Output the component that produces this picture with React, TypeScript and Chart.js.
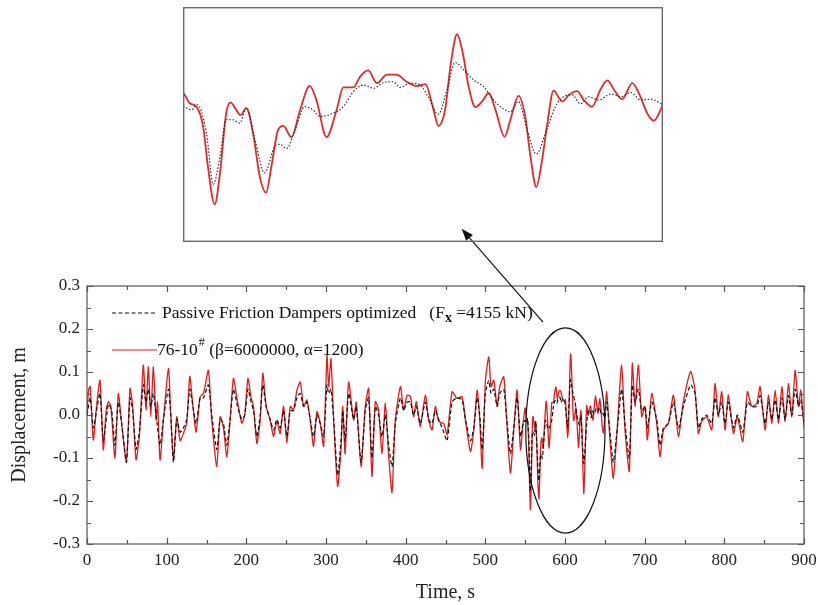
import React, { useEffect, useRef } from 'react';
import { Chart, registerables } from 'chart.js';

Chart.register(...registerables);

const FONT = "'Liberation Serif', 'Times New Roman', Times, serif";

// ---- axis ranges / ticks ----
const TIME_RANGE = [0, 900];
const TIME_STEP = 100;
const TIME_MINOR = 50;
const DISP_RANGE = [-0.3, 0.3];
const DISP_STEP = 0.1;
const DISP_MINOR = 0.05;
const INSET_TIME = [550, 650];
const INSET_DISP = [-0.3, 0.2];

// ---- labels ----
const X_TITLE = 'Time, s';
const Y_TITLE = 'Displacement, m';
const LEGEND_PASSIVE = 'Passive Friction Dampers optimized';
const LEGEND_PASSIVE_F = '(F';
const LEGEND_PASSIVE_SUB = 'x';
const LEGEND_PASSIVE_TAIL = ' =4155 kN)';
const LEGEND_ACTIVE = '76-10';
const LEGEND_ACTIVE_SUP = '#';
const LEGEND_ACTIVE_TAIL = ' (\u03B2=6000000, \u03B1=1200)';

// ---- annotation anchors (data space) ----
const ELLIPSE = { t: 600.5, v: -0.036, dt: 49.7, dv: 0.2386 };
const ARROW_FROM = { t: 572.4, v: 0.216 };
const ARROW_TO = { t: 470.3, v: 0.433 };

// ---- series: [time s, displacement m] ----
const redSeries: [number, number][] = [
  [0, 0.0], [2, 0.06], [4, 0.066], [7.9, -0.058], [12, 0.02], [16.3, 0.081], [20.5, -0.081],
  [24, 0.01], [26.8, 0.031], [30, 0.02], [35, -0.1], [39.3, 0.05], [43.5, -0.019], [49.5, -0.108],
  [54, 0.062], [57.3, 0.02], [61.5, -0.104], [65.7, -0.05], [70.7, 0.116], [74.1, 0.012], [77, 0.112],
  [80, -0.004], [83.3, 0.112], [86.7, -0.012], [88.5, 0.03], [91.7, -0.105], [95.9, -0.012],
  [102.2, 0.108], [105.1, 0.004], [108.5, -0.104], [112.7, -0.004], [116.9, -0.06], [121, -0.043],
  [125.2, -0.019], [129, 0.09], [133, 0.02], [137, -0.04], [142, 0.043], [146.2, 0.05], [152.4, 0.104],
  [156.6, -0.012], [162.9, -0.12], [167.1, -0.004], [171.3, -0.03], [175.5, -0.097], [179.6, -0.012],
  [183.8, 0.085], [188.9, 0.031], [194.3, -0.019], [198, 0.0], [202, 0.085], [206, 0.04], [209, 0.02],
  [213.2, -0.066], [217.4, -0.012], [220.7, 0.097], [224.9, 0.02], [229.9, -0.012], [234.1, -0.05],
  [238.3, -0.015], [242.5, -0.043], [246.7, 0.02], [250.9, -0.066], [255.1, 0.02], [259.3, 0.012],
  [263.5, 0.058], [267.7, 0.077], [271.9, 0.02], [276.1, 0.035], [280.2, -0.012], [284.4, -0.073],
  [288.6, 0.008], [292.8, -0.019], [297, -0.073], [301.2, 0.139], [303.3, 0.066], [306.2, 0.131],
  [309.6, -0.012], [314.6, -0.166], [318.8, -0.081], [321, 0.02], [324, -0.09], [328.4, 0.077],
  [334.7, -0.012], [338, 0.03], [344, -0.12], [349.3, 0.02], [353.5, 0.062], [357.7, -0.143],
  [361.9, 0.031], [366, 0.012], [370.3, -0.089], [374.5, 0.027], [378.7, -0.097], [382.9, -0.18],
  [387, -0.012], [393.4, 0.066], [397.5, 0.012], [401.7, 0.046], [405.9, 0.043], [410, -0.004],
  [413.4, 0.031], [418.4, -0.027], [424.7, 0.046], [428.9, -0.012], [433.1, -0.035], [437.3, 0.02],
  [441.5, -0.015], [447.8, -0.02], [452, -0.046], [458.3, 0.054], [464.5, 0.039], [470.8, 0.043],
  [475, -0.012], [481.3, -0.085], [485.5, -0.035], [489.7, 0.058], [493, -0.012], [496, -0.124],
  [500.1, 0.081], [504.3, 0.135], [507.2, 0.066], [510.6, 0.081], [514.8, 0.02], [518.1, 0.066],
  [523.1, 0.089], [526.5, -0.004], [531.5, -0.135], [535.7, -0.035], [539.9, 0.058], [544.1, -0.081],
  [547.4, -0.019],
  [550, 0.0165], [551.4, -0.005], [552.8, -0.012], [554.2, -0.055], [555.2, -0.14], [556.6, -0.22],
  [557.7, -0.154], [559, -0.026], [559.9, -0.003], [561.1, -0.019], [562, -0.03], [563.2, -0.015],
  [564.6, -0.069], [566, -0.161], [567.3, -0.195], [568.4, -0.14], [569.8, -0.062], [570.9, -0.053],
  [572.6, -0.077], [574.4, -0.019], [576.4, 0.032], [577.8, 0.002], [579.9, -0.077], [582, -0.019],
  [583.4, 0.029], [585.5, 0.029], [586.9, 0.052], [588.6, 0.065], [590.4, 0.038], [592.5, 0.056],
  [594.5, 0.056], [596.6, 0.041], [598.7, 0.032], [600.5, 0.036], [602.2, -0.019], [603.2, -0.053],
  [604.6, -0.019], [605.8, 0.08], [607.1, 0.142], [608.3, 0.101], [609.5, 0.031], [610.9, -0.013],
  [612.3, -0.001], [613.7, 0.017], [615.1, -0.019], [617, -0.076], [618.2, -0.04], [619.9, 0.011],
  [621.3, -0.033], [622.4, -0.119], [623.6, -0.183], [624.8, -0.126], [625.9, -0.048], [627.2, 0.022],
  [629, -0.001], [630.4, 0.013], [632.1, 0.021], [633.5, 0.002], [635.2, -0.012], [637, 0.025],
  [638.4, 0.044], [639.8, 0.024], [641.5, 0.004], [643.6, 0.038], [645.3, 0.009], [646.7, -0.026],
  [648.1, -0.042], [649.5, -0.019], [650, -0.005],
  [652.3, 0.054], [656.5, -0.058], [660.6, -0.147], [665.7, -0.027], [671.1, 0.116], [675.3, -0.035],
  [680.7, -0.131], [684.5, 0.12], [687.9, 0.02], [692.1, 0.116], [696.3, -0.004], [700.5, 0.02],
  [703.4, -0.058], [708.9, 0.05], [715.1, -0.019], [719.3, -0.097], [723.5, -0.035], [729.8, -0.019],
  [736.1, 0.046], [742.4, -0.05], [748.6, 0.031], [757.8, 0.101], [763.2, 0.058], [767.4, -0.043],
  [771.6, -0.015], [777.9, -0.004], [784.2, -0.035], [788.4, 0.073], [792.5, -0.004], [796.7, 0.054],
  [800.9, -0.035], [805.1, 0.046], [811.4, -0.043], [816.4, -0.004], [823.1, -0.062], [829, 0.054],
  [834.4, 0.02], [840.7, 0.027], [844.9, 0.066], [851.2, -0.035], [855.4, 0.046], [859.6, -0.019],
  [863.8, 0.058], [868, -0.019], [872.2, 0.066], [876.3, -0.015], [880.5, 0.073], [884.7, -0.004],
  [888.9, 0.104], [893.1, 0.02], [896, 0.058], [900, -0.03],
];

const blackSeries: [number, number][] = [
  [0, 0.0], [4, 0.04], [8, -0.03], [12, 0.01], [16.3, 0.05], [20.5, -0.06], [26.8, 0.025], [31, 0.01],
  [35, -0.07], [39.3, 0.03], [43.5, -0.02], [49.5, -0.11], [54, 0.04], [57.3, 0.01], [61.5, -0.08],
  [65.7, -0.04], [70.7, 0.07], [74.1, 0.03], [77, 0.06], [80, 0.02], [83.3, 0.05], [86.7, 0.0],
  [91.7, -0.07], [95.9, -0.01], [102.2, 0.06], [105.1, 0.0], [108.5, -0.11], [112.7, -0.01],
  [116.9, -0.04], [121, -0.03], [125.2, -0.01], [129, 0.06], [133, 0.02], [137, -0.02], [142, 0.04],
  [146.2, 0.04], [152.4, 0.07], [156.6, 0.0], [162.9, -0.08], [167.1, -0.01], [171.3, -0.02],
  [175.5, -0.07], [179.6, -0.01], [183.8, 0.06], [188.9, 0.02], [194.3, -0.01], [198, 0.0], [202, 0.06],
  [206, 0.03], [209, 0.01], [213.2, -0.05], [217.4, 0.0], [220.7, 0.07], [224.9, 0.02], [229.9, -0.01],
  [234.1, -0.035], [238.3, -0.01], [242.5, -0.03], [246.7, 0.01], [250.9, -0.05], [255.1, 0.01],
  [259.3, 0.01], [263.5, 0.04], [267.7, 0.05], [271.9, 0.02], [276.1, 0.03], [280.2, -0.01],
  [284.4, -0.05], [288.6, 0.0], [292.8, -0.02], [297, -0.05], [301.2, 0.07], [303.3, 0.05],
  [306.2, 0.06], [309.6, -0.01], [314.6, -0.14], [318.8, -0.06], [321, 0.01], [324, -0.06],
  [328.4, 0.05], [334.7, -0.01], [338, 0.02], [344, -0.11], [349.3, 0.01], [353.5, 0.04],
  [357.7, -0.1], [361.9, 0.02], [366, 0.0], [370.3, -0.05], [374.5, 0.0], [378.7, -0.07],
  [382.9, -0.12], [387, -0.02], [393.4, 0.04], [397.5, 0.01], [401.7, 0.03], [405.9, 0.03], [410, 0.0],
  [413.4, 0.02], [418.4, -0.02], [424.7, 0.03], [428.9, -0.01], [433.1, -0.02], [437.3, 0.01],
  [441.5, -0.01], [447.8, -0.04], [452, -0.06], [458.3, 0.03], [464.5, 0.04], [470.8, 0.035],
  [475, -0.01], [481.3, -0.06], [485.5, -0.03], [489.7, 0.04], [493, 0.0], [496, -0.08], [500.1, 0.05],
  [504.3, 0.08], [507.2, 0.05], [510.6, 0.06], [514.8, 0.02], [518.1, 0.05], [523.1, 0.06],
  [526.5, 0.0], [531.5, -0.09], [535.7, -0.03], [539.9, 0.04], [544.1, -0.05], [547.4, -0.02],
  [550, -0.012], [551.7, -0.019], [553, -0.008], [554.9, -0.069], [556.3, -0.177], [557.7, -0.119],
  [559, -0.04], [560.4, -0.04], [561.8, -0.047], [563.2, -0.015], [565, -0.083], [567, -0.153],
  [569.1, -0.097], [570.2, -0.092], [571.6, -0.101], [573.3, -0.062], [575.4, -0.012], [577.1, -0.019],
  [578.5, -0.033], [581.3, -0.026], [583.4, -0.012], [585.5, 0.02], [587.6, 0.034], [589.7, 0.027],
  [591.7, 0.039], [593.8, 0.041], [595.2, 0.029], [597.3, 0.038], [599.4, 0.034], [601.1, 0.009],
  [603.2, -0.028], [605, 0.024], [606.7, 0.082], [608.5, 0.066], [610.5, 0.045], [612.6, 0.031],
  [614.7, 0.002], [616.5, -0.015], [618.2, -0.023], [619.9, -0.001], [621.7, -0.062], [623.6, -0.113],
  [625.5, -0.069], [627.6, -0.012], [629.3, 0.009], [631.1, 0.013], [632.8, -0.006], [634.5, 0.009],
  [636.6, 0.002], [639.1, 0.015], [641.2, 0.009], [643.3, 0.018], [645.4, 0.002], [647.5, 0.004],
  [650, -0.006],
  [652.3, 0.03], [656.5, -0.04], [660.6, -0.11], [665.7, -0.03], [671.1, 0.06], [675.3, -0.02],
  [680.7, -0.1], [684.5, 0.07], [687.9, 0.03], [692.1, 0.06], [696.3, 0.01], [700.5, 0.02],
  [703.4, -0.03], [708.9, 0.03], [715.1, -0.01], [719.3, -0.07], [723.5, -0.03], [729.8, -0.02],
  [736.1, 0.03], [742.4, -0.03], [748.6, 0.02], [757.8, 0.07], [763.2, 0.05], [767.4, -0.03],
  [771.6, -0.01], [777.9, 0.0], [784.2, -0.02], [788.4, 0.04], [792.5, 0.0], [796.7, 0.03],
  [800.9, -0.02], [805.1, 0.03], [811.4, -0.03], [816.4, 0.0], [823.1, -0.04], [829, 0.03],
  [834.4, 0.02], [840.7, 0.02], [844.9, 0.045], [851.2, -0.02], [855.4, 0.03], [859.6, -0.01],
  [863.8, 0.035], [868, -0.01], [872.2, 0.04], [876.3, -0.01], [880.5, 0.045], [884.7, 0.0],
  [888.9, 0.06], [893.1, 0.02], [896, 0.035], [900, -0.02],
];

const toXY = (s: [number, number][]) => s.map(([x, y]) => ({ x, y }));

const RED = '#e01b1b';
const INK = '#111111';
const FRAME = '#555555';

const mainDecor = {
  id: 'mainDecor',
  afterDraw(chart: any) {
    const { ctx, chartArea, scales } = chart;
    const { left, right, top, bottom } = chartArea;
    const xs = scales.x;
    const ys = scales.y;
    ctx.save();
    // frame
    ctx.strokeStyle = FRAME;
    ctx.lineWidth = 1.2;
    ctx.strokeRect(left, top, right - left, bottom - top);
    // inward ticks
    ctx.beginPath();
    for (let t = TIME_RANGE[0]; t <= TIME_RANGE[1] + 1e-9; t += TIME_MINOR) {
      const px = Math.round(xs.getPixelForValue(t)) + 0.5;
      const len = Math.abs(t % TIME_STEP) < 1e-6 ? 6 : 4;
      ctx.moveTo(px, bottom); ctx.lineTo(px, bottom - len);
      ctx.moveTo(px, top); ctx.lineTo(px, top + len);
    }
    for (let k = 0; ; k++) {
      const v = DISP_RANGE[0] + k * DISP_MINOR;
      if (v > DISP_RANGE[1] + 1e-9) break;
      const py = Math.round(ys.getPixelForValue(v)) + 0.5;
      const len = k % 2 === 0 ? 6 : 4;
      ctx.moveTo(left, py); ctx.lineTo(left + len, py);
      ctx.moveTo(right, py); ctx.lineTo(right - len, py);
    }
    ctx.stroke();

    // legend
    ctx.fillStyle = INK;
    ctx.textBaseline = 'middle';
    ctx.textAlign = 'left';
    const y1 = top + 27;
    const y2 = top + 64;
    ctx.lineWidth = 1.2;
    ctx.strokeStyle = INK;
    ctx.setLineDash([4, 2.5]);
    ctx.beginPath(); ctx.moveTo(left + 25, y1); ctx.lineTo(left + 70, y1); ctx.stroke();
    ctx.setLineDash([]);
    ctx.strokeStyle = RED;
    ctx.beginPath(); ctx.moveTo(left + 25, y2); ctx.lineTo(left + 70, y2); ctx.stroke();

    const big = `17.5px ${FONT}`;
    ctx.font = big;
    let x0 = left + 75;
    ctx.fillText(LEGEND_PASSIVE, x0, y1);
    x0 += ctx.measureText(LEGEND_PASSIVE + '   ').width;
    ctx.fillText(LEGEND_PASSIVE_F, x0, y1);
    x0 += ctx.measureText(LEGEND_PASSIVE_F).width;
    ctx.font = `bold 14px ${FONT}`;
    ctx.fillText(LEGEND_PASSIVE_SUB, x0, y1 + 5);
    x0 += ctx.measureText(LEGEND_PASSIVE_SUB).width;
    ctx.font = big;
    ctx.fillText(LEGEND_PASSIVE_TAIL, x0, y1);

    x0 = left + 70;
    ctx.fillText(LEGEND_ACTIVE, x0, y2);
    x0 += ctx.measureText(LEGEND_ACTIVE).width;
    ctx.font = `12px ${FONT}`;
    ctx.fillText(LEGEND_ACTIVE_SUP, x0 + 1, y2 - 7);
    x0 += ctx.measureText(LEGEND_ACTIVE_SUP).width + 1;
    ctx.font = big;
    ctx.fillText(LEGEND_ACTIVE_TAIL, x0, y2);

    // ellipse
    const cx = xs.getPixelForValue(ELLIPSE.t);
    const cy = ys.getPixelForValue(ELLIPSE.v);
    const rx = Math.abs(xs.getPixelForValue(ELLIPSE.t + ELLIPSE.dt) - cx);
    const ry = Math.abs(ys.getPixelForValue(ELLIPSE.v + ELLIPSE.dv) - cy);
    ctx.strokeStyle = INK;
    ctx.lineWidth = 1.2;
    ctx.beginPath();
    ctx.ellipse(cx, cy, rx, ry, 0, 0, Math.PI * 2);
    ctx.stroke();

    // arrow
    const ax = xs.getPixelForValue(ARROW_FROM.t);
    const ay = ys.getPixelForValue(ARROW_FROM.v);
    const bx = xs.getPixelForValue(ARROW_TO.t);
    const by = ys.getPixelForValue(ARROW_TO.v);
    const ang = Math.atan2(by - ay, bx - ax);
    const hl = 12, hw = 4.5;
    ctx.beginPath();
    ctx.moveTo(ax, ay);
    ctx.lineTo(bx - Math.cos(ang) * hl * 0.8, by - Math.sin(ang) * hl * 0.8);
    ctx.stroke();
    ctx.fillStyle = INK;
    ctx.beginPath();
    ctx.moveTo(bx, by);
    ctx.lineTo(bx - Math.cos(ang) * hl - Math.sin(ang) * hw, by - Math.sin(ang) * hl + Math.cos(ang) * hw);
    ctx.lineTo(bx - Math.cos(ang) * hl + Math.sin(ang) * hw, by - Math.sin(ang) * hl - Math.cos(ang) * hw);
    ctx.closePath();
    ctx.fill();
    ctx.restore();
  },
};

const insetFrame = {
  id: 'insetFrame',
  afterDraw(chart: any) {
    const { ctx, chartArea } = chart;
    const { left, right, top, bottom } = chartArea;
    ctx.save();
    ctx.strokeStyle = '#6a6a6a';
    ctx.lineWidth = 1.4;
    ctx.strokeRect(left + 0.7, top + 0.7, right - left - 1.4, bottom - top - 1.4);
    ctx.restore();
  },
};

export default function App() {
  const mainRef = useRef<HTMLCanvasElement | null>(null);
  const insetRef = useRef<HTMLCanvasElement | null>(null);

  useEffect(() => {
    if (!mainRef.current || !insetRef.current) return;
    const tickFont = { family: FONT, size: 17 };
    const main = new Chart(mainRef.current, {
      type: 'line',
      data: {
        datasets: [
          {
            label: 'Passive',
            data: toXY(blackSeries),
            borderColor: INK,
            borderWidth: 1.2,
            borderDash: [4, 2.5],
            pointRadius: 0,
            tension: 0.2,
            order: 0,
          },
          {
            label: 'Active',
            data: toXY(redSeries),
            borderColor: RED,
            borderWidth: 1.3,
            pointRadius: 0,
            tension: 0.2,
            order: 1,
          },
        ],
      },
      options: {
        animation: false,
        responsive: false,
        devicePixelRatio: 1,
        layout: { padding: { left: 0, right: 14, top: 286, bottom: 0 } },
        plugins: { legend: { display: false }, tooltip: { enabled: false } },
        scales: {
          x: {
            type: 'linear',
            min: TIME_RANGE[0],
            max: TIME_RANGE[1],
            grid: { display: false, drawTicks: false },
            border: { display: false },
            ticks: { stepSize: TIME_STEP, font: tickFont, color: '#222', padding: 6, maxRotation: 0 },
            title: { display: true, text: X_TITLE, font: { family: FONT, size: 20 }, color: '#222', padding: { top: 0, bottom: 0 } },
            afterFit: (s: any) => { s.height = 61; s.paddingLeft = 0; s.paddingRight = 0; },
          },
          y: {
            type: 'linear',
            min: DISP_RANGE[0],
            max: DISP_RANGE[1],
            grid: { display: false, drawTicks: false },
            border: { display: false },
            ticks: {
              stepSize: DISP_STEP,
              font: tickFont,
              color: '#222',
              padding: 7,
              callback: (v: any) => (Math.abs(v) < 1e-9 ? '0.0' : Number(v).toFixed(1)),
            },
            title: { display: true, text: Y_TITLE, font: { family: FONT, size: 20 }, color: '#222', padding: { top: 8, bottom: 0 } },
            afterFit: (s: any) => { s.width = 87; s.paddingTop = 0; s.paddingBottom = 0; },
          },
        },
      },
      plugins: [mainDecor],
    } as any);

    const inset = new Chart(insetRef.current, {
      type: 'line',
      data: {
        datasets: [
          {
            data: toXY(blackSeries),
            borderColor: '#222',
            borderWidth: 1.1,
            borderDash: [1.5, 1.8],
            pointRadius: 0,
            cubicInterpolationMode: 'monotone',
            order: 0,
          },
          {
            data: toXY(redSeries),
            borderColor: '#e02a2a',
            borderWidth: 1.8,
            pointRadius: 0,
            cubicInterpolationMode: 'monotone',
            order: 1,
          },
        ],
      },
      options: {
        animation: false,
        responsive: false,
        devicePixelRatio: 1,
        layout: { padding: 0 },
        plugins: { legend: { display: false }, tooltip: { enabled: false } },
        scales: {
          x: { type: 'linear', display: false, min: INSET_TIME[0], max: INSET_TIME[1] },
          y: { type: 'linear', display: false, min: INSET_DISP[0], max: INSET_DISP[1] },
        },
      },
      plugins: [insetFrame],
    } as any);

    return () => {
      main.destroy();
      inset.destroy();
    };
  }, []);

  return (
    <div style={{ position: 'absolute', left: 0, top: 0, width: 818, height: 605, background: '#fff' }}>
      <canvas ref={mainRef} width={818} height={605} style={{ position: 'absolute', left: 0, top: 0 }} />
      <canvas ref={insetRef} width={480} height={235} style={{ position: 'absolute', left: 183, top: 7 }} />
    </div>
  );
}
